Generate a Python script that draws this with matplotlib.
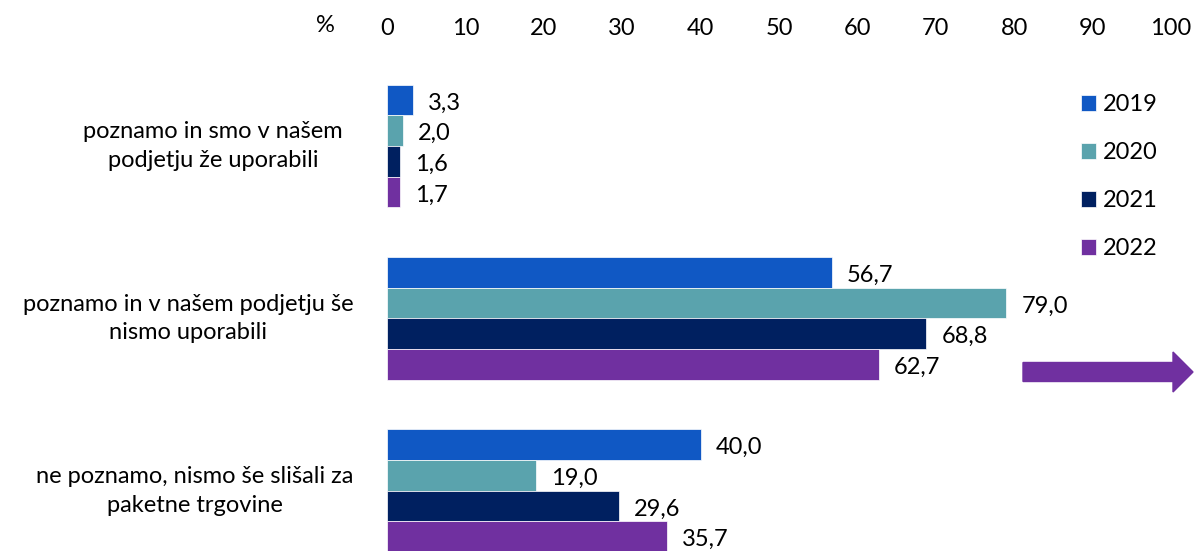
import numpy as np
import matplotlib
matplotlib.use("Agg")
import matplotlib.pyplot as plt
import matplotlib.transforms as mtransforms
from matplotlib.patches import FancyArrow

plt.rcParams['font.family'] = ['Lato', 'DejaVu Sans']

categories = ["poznamo in smo v našem\npodjetju že uporabili",
              "poznamo in v našem podjetju še\nnismo uporabili",
              "ne poznamo, nismo še slišali za\npaketne trgovine"]
years = ["2019", "2020", "2021", "2022"]
v2019 = [3.3, 56.7, 40.0]
v2020 = [2.0, 79.0, 19.0]
v2021 = [1.6, 68.8, 29.6]
v2022 = [1.7, 62.7, 35.7]
series = [v2019, v2020, v2021, v2022]
colors = ["#1058C4", "#5AA3AD", "#002060", "#7030A0"]
xticks = [0, 10, 20, 30, 40, 50, 60, 70, 80, 90, 100]

W, H = 1194, 551
fig = plt.figure(figsize=(W / 100, H / 100), dpi=100)
ax = fig.add_axes([387 / W, 0, (1171 - 387) / W, 491 / H])

fs = 17
h = 0.178
ypos = np.arange(len(categories))
for i, (vals, col, yr) in enumerate(zip(series, colors, years)):
    yy = ypos + (i - 1.5) * h
    ax.barh(yy, vals, height=h, color=col, edgecolor="white", linewidth=0.5, label=yr)
    for y, v in zip(yy, vals):
        ax.annotate(f"{v:.1f}".replace(".", ","), (v, y), xytext=(15, -3),
                    textcoords="offset pixels", va="center", ha="left", fontsize=fs)

ax.set_xlim(0, 100)
ax.set_ylim(2.35, -0.5)
ax.xaxis.tick_top()
ax.set_xticks(xticks)
ax.set_xticklabels([str(t) for t in xticks], fontsize=fs)
ax.tick_params(axis="x", length=0, pad=15)
ax.set_yticks([])
for s in ax.spines.values():
    s.set_visible(False)

# category labels
trans = mtransforms.blended_transform_factory(fig.transFigure, ax.transData)
label_x = [213, 188, 195]
for y, lab, lx in zip(ypos, categories, label_x):
    ax.text(lx / W, y, lab, transform=trans, ha="center", va="center",
            multialignment="center", fontsize=fs, linespacing=1.45)

fig.text(325 / W, 1 - 25 / H, "%", ha="center", va="center", fontsize=fs)

ax.legend(loc="upper left", bbox_to_anchor=(1081 / W, 1 - 94 / H),
          bbox_transform=fig.transFigure, frameon=False, fontsize=fs,
          handlelength=0.64, handleheight=0.64, handletextpad=0.3,
          labelspacing=1.15, borderpad=0, borderaxespad=0)

arrow = FancyArrow(1023 / W, 1 - 372 / H, 170 / W, 0, width=19 / H,
                   head_width=40 / H, head_length=20 / W,
                   length_includes_head=True, color="#7030A0",
                   transform=fig.transFigure)
fig.patches.append(arrow)

fig.savefig("out.png", dpi=100)
